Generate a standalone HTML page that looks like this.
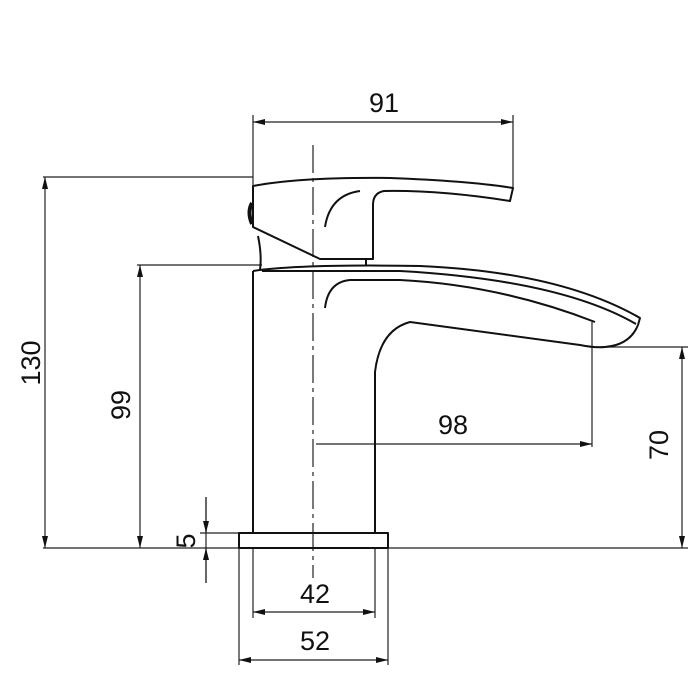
<!DOCTYPE html>
<html><head><meta charset="utf-8"><style>
html,body{margin:0;padding:0;background:#fff;width:700px;height:700px;overflow:hidden}
text{font-family:"Liberation Sans",Arial,sans-serif;font-size:27px;fill:#111}
</style></head><body>
<svg width="700" height="700" viewBox="0 0 700 700" xmlns="http://www.w3.org/2000/svg">
<defs>
<marker id="a" markerWidth="12" markerHeight="8" refX="12" refY="4" orient="auto-start-reverse" markerUnits="userSpaceOnUse">
<path d="M0,1 L12,4 L0,7 Z" fill="#111"/></marker>
</defs>
<g stroke="#222" stroke-width="1.2" fill="none">
<!-- extension lines -->
<line x1="43" y1="177" x2="253" y2="177"/>
<line x1="43" y1="548" x2="688" y2="548"/>
<line x1="137" y1="265" x2="262" y2="265"/>
<line x1="595" y1="347" x2="688" y2="347"/>
<line x1="200" y1="533" x2="239" y2="533"/>
<line x1="253" y1="115" x2="253" y2="186"/>
<line x1="513" y1="115" x2="513" y2="188"/>
<line x1="592" y1="322" x2="592" y2="447"/>
<line x1="253" y1="548" x2="253" y2="618"/>
<line x1="375" y1="548" x2="375" y2="618"/>
<line x1="239" y1="548" x2="239" y2="665"/>
<line x1="388" y1="548" x2="388" y2="665"/>
<line x1="206" y1="497" x2="206" y2="583"/>
<!-- dims -->
<line x1="253" y1="122" x2="513" y2="122" marker-start="url(#a)" marker-end="url(#a)"/>
<line x1="45" y1="177" x2="45" y2="548" marker-start="url(#a)" marker-end="url(#a)"/>
<line x1="140" y1="265" x2="140" y2="548" marker-start="url(#a)" marker-end="url(#a)"/>
<line x1="316" y1="444" x2="592" y2="444" marker-end="url(#a)"/>
<line x1="682" y1="347" x2="682" y2="548" marker-start="url(#a)" marker-end="url(#a)"/>
<line x1="206" y1="497" x2="206" y2="533" marker-end="url(#a)"/>
<line x1="206" y1="583" x2="206" y2="548" marker-end="url(#a)"/>
<line x1="253" y1="612" x2="375" y2="612" marker-start="url(#a)" marker-end="url(#a)"/>
<line x1="239" y1="660" x2="388" y2="660" marker-start="url(#a)" marker-end="url(#a)"/>
<!-- center line -->
<line x1="313" y1="145" x2="313" y2="578" stroke-dasharray="28,5,4,5"/>
</g>
<g stroke="#111" stroke-width="2" fill="none" stroke-linejoin="round">
<!-- base -->
<rect x="239" y="533" width="149" height="15"/>
<!-- body -->
<line x1="253" y1="271" x2="253" y2="533"/>
<path d="M375,533 L375,372 Q380,330 410,322 L580,345 Q595,348 605,347 Q630,345 638,325"/>
<!-- spout -->
<path d="M253,271 Q300,264 420,266 Q560,272 640,318 L638,325"/>
<path d="M262,271 L400,271 Q560,280 636,324"/>
<path d="M325,308 Q328,282 350,280 L400,280 Q500,285 595,322"/>
<!-- handle -->
<path d="M253,186 Q300,177 390,178 Q470,181 513,188 L510,201 Q440,190 384,191 Q373,193 373,205 L373,259 L320,259 L253,227 Z"/>
<path d="M325,227 Q330,195 360,191"/>
<path d="M258,236 Q262,255 260,270"/>
<line x1="366" y1="259" x2="366" y2="266"/>
<path d="M252,203 Q247,212 252,224" stroke-width="4"/>
</g>
<text x="384" y="112" text-anchor="middle">91</text>
<text x="453" y="434" text-anchor="middle">98</text>
<text x="315" y="603" text-anchor="middle">42</text>
<text x="315" y="650" text-anchor="middle">52</text>
<text transform="translate(40,363) rotate(-90)" text-anchor="middle">130</text>
<text transform="translate(130,405) rotate(-90)" text-anchor="middle">99</text>
<text transform="translate(668,445) rotate(-90)" text-anchor="middle">70</text>
<text transform="translate(195,541) rotate(-90)" text-anchor="middle">5</text>
</svg>
</body></html>
